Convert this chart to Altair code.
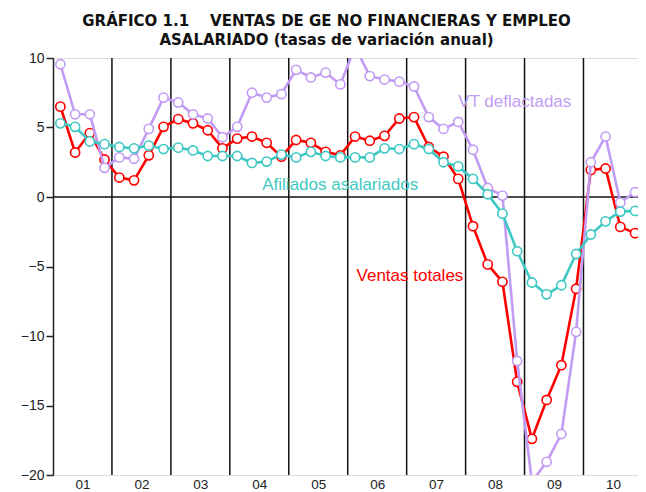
import altair as alt
import pandas as pd

years = ["01", "02", "03", "04", "05", "06", "07", "08", "09", "10"]

ventas_totales = [
    6.5, 3.2, 4.6, 2.7,
    1.4, 1.2, 3.0, 5.05,
    5.6, 5.3, 4.8, 3.5,
    4.2, 4.35, 3.9, 2.9,
    4.1, 3.9, 3.25, 3.0,
    4.35, 4.05, 4.4, 5.65,
    5.75, 3.6, 2.9, 1.3,
    -2.1, -4.85, -6.1, -13.3,
    -17.4, -14.6, -12.1, -6.6,
    1.95, 2.05, -2.15, -2.6,
]

vt_deflactadas = [
    9.55, 5.95, 5.95, 2.1,
    2.85, 2.75, 4.9, 7.15,
    6.8, 5.95, 5.65, 4.3,
    5.05, 7.5, 7.15, 7.4,
    9.15, 8.6, 8.95, 8.1,
    10.8, 8.7, 8.45, 8.3,
    7.95, 5.75, 4.9, 5.4,
    3.4, 0.65, 0.1, -11.8,
    -20.5, -19.05, -17.05, -9.7,
    2.5, 4.35, -0.4, 0.35,
]

afiliados = [
    5.3, 5.05, 4.0, 3.8,
    3.6, 3.5, 3.7, 3.45,
    3.55, 3.35, 2.95, 2.95,
    2.95, 2.45, 2.55, 3.05,
    2.85, 3.25, 2.95, 2.85,
    2.85, 2.85, 3.5, 3.45,
    3.8, 3.45, 2.5, 2.2,
    1.3, 0.2, -1.2, -3.9,
    -6.15, -7.0, -6.35, -4.1,
    -2.7, -1.75, -1.05, -1.0,
]

series_names = ["Ventas totales", "VT deflactadas", "Afiliados asalariados"]
series_colors = ["#ff0000", "#c29cf4", "#3ec8c2"]
label_q = [20.6, 27.5, 14.2]
label_v = [-5.7, 6.83, 0.88]
label_text = ["Ventas totales", "VT  deflactadas", "Afiliados asalariados"]

n = len(ventas_totales)
q = [i + 0.5 for i in range(n)]
df = pd.DataFrame({
    "q": q,
    "Ventas totales": ventas_totales,
    "VT deflactadas": vt_deflactadas,
    "Afiliados asalariados": afiliados,
})
long = df.melt("q", var_name="serie", value_name="valor")

xscale = alt.Scale(domain=[0, 39.7], nice=False, zero=False)
yscale = alt.Scale(domain=[-20, 10], nice=False, zero=False)

label_expr = "[" + ",".join(f"'{y}'" for y in years) + "][floor(datum.value / 4)]"

x_axis = alt.Axis(
    values=[4 * k + 2 for k in range(len(years))],
    labelExpr=label_expr,
    ticks=False, domain=False, grid=False, title=None,
    labelFont="Liberation Sans", labelFontSize=13.5, labelColor="#222222",
    labelPadding=2, labelAngle=0,
)
y_axis = alt.Axis(
    values=[-20, -15, -10, -5, 0, 5, 10],
    grid=False, title=None, tickSize=7, tickColor="#222222", tickWidth=1.5,
    domainColor="#222222", domainWidth=1.5,
    labelFont="Liberation Sans", labelFontSize=14, labelColor="#222222",
    labelPadding=2,
)

X = lambda f: alt.X(f, scale=xscale, axis=x_axis)
Y = lambda f: alt.Y(f, scale=yscale, axis=y_axis)

year_df = pd.DataFrame({"xr": [4 * k for k in range(1, len(years))]})
year_rules = alt.Chart(year_df).mark_rule(color="#111111", strokeWidth=1.5).encode(x=X("xr:Q"))
zero_rule = alt.Chart(pd.DataFrame({"v": [0]})).mark_rule(color="#111111", strokeWidth=1.5).encode(y=Y("v:Q"))

layers = [year_rules, zero_rule]
for name, color in zip(series_names, series_colors):
    src = long[long.serie == name]
    base = alt.Chart(src).encode(x=X("q:Q"), y=Y("valor:Q"))
    layers.append(base.mark_line(color=color, strokeWidth=2.6, clip=True))
    layers.append(base.mark_point(shape="circle", filled=True, fill="white", stroke=color,
                                  strokeWidth=1.6, size=85, opacity=1, clip=True))

lab_df = pd.DataFrame({"q": label_q, "v": label_v, "t": label_text, "c": series_colors})
labels = alt.Chart(lab_df).mark_text(align="left", baseline="middle", font="Liberation Sans", fontSize=17).encode(
    x=X("q:Q"),
    y=Y("v:Q"),
    text="t:N",
    color=alt.Color("c:N", scale=None, legend=None),
)
layers.append(labels)

chart = alt.layer(*layers).properties(
    width=585, height=417,
    autosize=alt.AutoSizeParams(type="none"),
    padding={"left": 45, "top": 50, "right": 0, "bottom": 16},
    title=alt.Title(
        ["GRÁFICO 1.1\u00a0\u00a0\u00a0\u00a0VENTAS DE GE NO FINANCIERAS Y EMPLEO",
         "ASALARIADO (tasas de variación anual)"],
        font="DejaVu Sans", fontSize=15, fontWeight="bold", color="#111111",
        anchor="middle", offset=3, dx=-19, lineHeight=19,
    ),
).configure_view(stroke=None).configure(background="white")

chart.save("out.html", embed_options={"renderer": "svg", "actions": False})
